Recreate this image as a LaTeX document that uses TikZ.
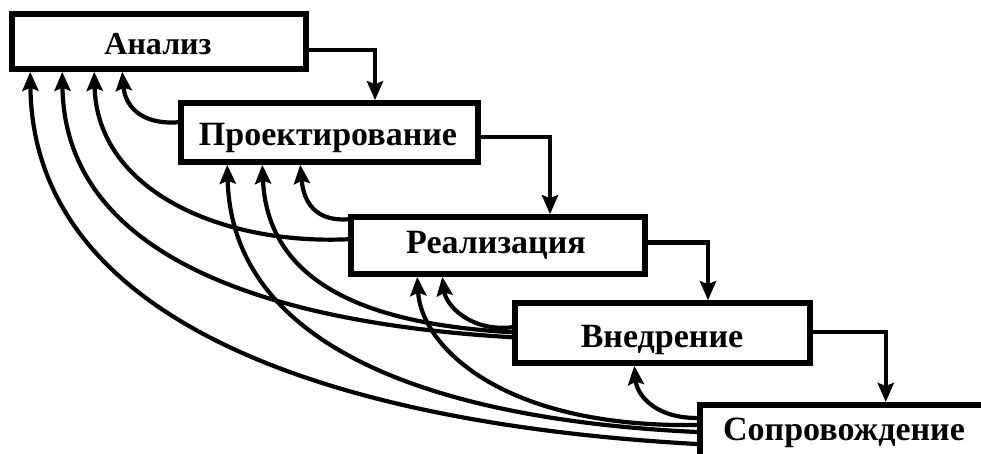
\documentclass[tikz,border=0pt]{standalone}
\usepackage{fontspec}
\setmainfont{Liberation Serif}
\usetikzlibrary{arrows.meta,calc}
\begin{document}
\begin{tikzpicture}[x=1pt,y=-1pt,
  box/.style={draw=black,line width=5.5pt,fill=white,inner sep=0pt},
  lbl/.style={font=\bfseries\fontsize{34}{34}\selectfont,inner sep=0pt,anchor=base},
  conn/.style={line width=4.2pt,-{Stealth[length=19pt,width=16pt,inset=3pt]}}]
\useasboundingbox (0,0) rectangle (981,453);
% boxes
\node[box,minimum width=294,minimum height=55] (a) at (159,41.5) {};
\node[box,minimum width=297,minimum height=59] (p) at (329.5,132.5) {};
\node[box,minimum width=294,minimum height=57] (r) at (498,245.5) {};
\node[box,minimum width=295,minimum height=60] (v) at (662.5,333) {};
\node[box,minimum width=320,minimum height=90,anchor=north west] (s) at (697,402) {};
% labels
\node[lbl,font=\bfseries\fontsize{32}{32}\selectfont] (at) at (158,54) {Анализ};
\node[lbl] (pt) at (328,145) {Проектирование};
\node[lbl] (rt) at (496,253) {Реализация};
\node[lbl] (vt) at (662,347) {Внедрение};
\node[lbl] (st) at (844,440) {Сопровождение};
% forward connectors
\draw[conn] ([yshift=-8.5pt]a.east) -| ([xshift=45.5pt]p.north);
\draw[conn] ([yshift=-4.5pt]p.east) -| ([xshift=52pt]r.north);
\draw[conn] ([yshift=3pt]r.east) -| ([xshift=45.5pt]v.north);
\draw[conn] ([yshift=1pt]v.east) -| ([xshift=26pt]s.north);
% feedback connectors
\draw[conn] ($(p.north west)+(0,22)$) .. controls (140,125) and (125,105) .. ($(a.south west)+(113,0)$);
\draw[conn] ($(r.north west)+(0,25)$) .. controls (220,245) and (97,190) .. ($(a.south west)+(85,0)$);
\draw[conn] ($(v.north west)+(0,37)$) .. controls (300,325) and (65,270) .. ($(a.south west)+(53,0)$);
\draw[conn] ($(s.north west)+(0,42)$) .. controls (350,425) and (33,330) .. ($(a.south west)+(21,0)$);
\draw[conn] ($(r.north west)+(0,5)$) .. controls (310,222) and (303,195) .. ($(p.south west)+(122,0)$);
\draw[conn] ($(v.north west)+(0,32)$) .. controls (380,325) and (268,290) .. ($(p.south west)+(84,0)$);
\draw[conn] ($(s.north west)+(0,30)$) .. controls (440,420) and (232,350) .. ($(p.south west)+(49,0)$);
\draw[conn] ($(v.north west)+(0,27)$) .. controls (470,332) and (446,305) .. ($(r.south west)+(94,0)$);
\draw[conn] ($(s.north west)+(0,23)$) .. controls (500,428) and (421,345) .. ($(r.south west)+(69,0)$);
\draw[conn] ($(s.north west)+(0,16)$) .. controls (655,418) and (637,395) .. ($(v.south west)+(122,0)$);
\end{tikzpicture}
\end{document}
